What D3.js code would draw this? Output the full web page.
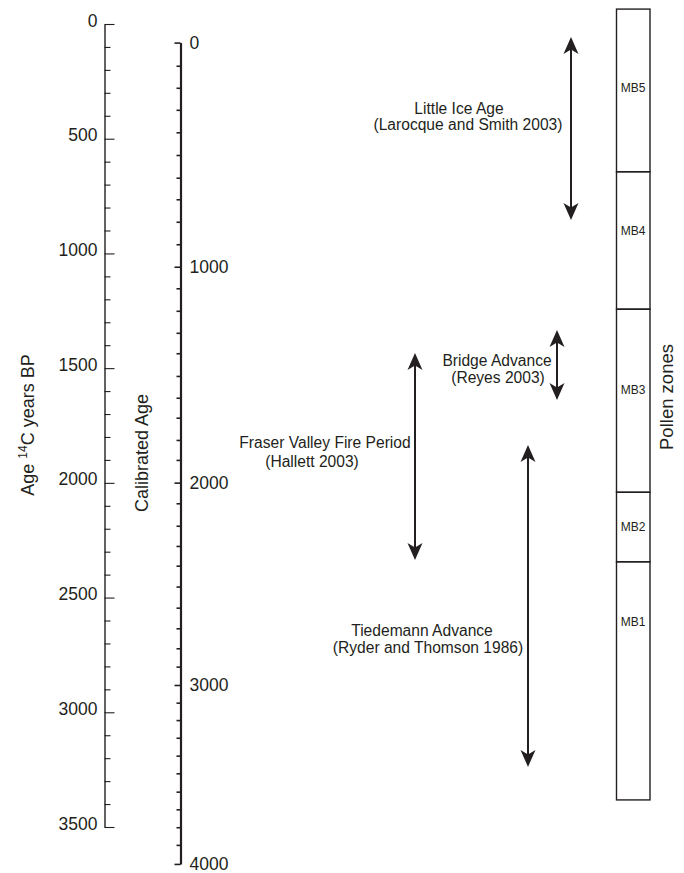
<!DOCTYPE html>
<html>
<head>
<meta charset="utf-8">
<script src="https://cdn.jsdelivr.net/npm/d3@7"></script>
<style>
  body { margin: 0; background: #fff; }
  text { font-family: "Liberation Sans", Arial, sans-serif; fill: #231f20; }
</style>
</head>
<body>
<div id="chart"></div>
<script>
// radiocarbon axis (14C years BP)
const c14Major = [0, 500, 1000, 1500, 2000, 2500, 3000, 3500];
const c14Minor = d3.range(0, 3501, 100);

// calibrated ages and the 14C age each one lines up with
const calAge = [0, 100, 200, 300, 400, 500, 600, 700, 800, 900,
  1000, 1100, 1200, 1300, 1400, 1500, 1600, 1700, 1800, 1900,
  2000, 2100, 2200, 2300, 2400, 2500, 2600, 2700, 2800, 2900,
  3000, 3100, 3200, 3300, 3400, 3500, 3600, 3700, 3800, 3900, 4000];
const calAs14C = [81, 182, 278, 374, 472, 571, 670, 764, 862, 960,
  1058, 1152, 1250, 1346, 1435, 1534, 1629, 1716, 1813, 1900,
  1999, 2089, 2187, 2275, 2361, 2452, 2544, 2634, 2721, 2801,
  2881, 2958, 3034, 3111, 3189, 3266, 3346, 3423, 3501, 3578, 3661];
const calMajor = [0, 1000, 2000, 3000, 4000];

// pollen zones, in 14C years BP
const zoneNames = ["MB5", "MB4", "MB3", "MB2", "MB1"];
const zoneTop = [-65, 644, 1243, 2041, 2344];
const zoneBottom = [644, 1243, 2041, 2344, 3382];
const zoneLabelAt = [279, 902, 1595, 2192, 2606];

// events, in 14C years BP
const eventNames = ["Little Ice Age", "Bridge Advance", "Fraser Valley Fire Period", "Tiedemann Advance"];
const eventRefs = ["(Larocque and Smith 2003)", "(Reyes 2003)", "(Hallett 2003)", "(Ryder and Thomson 1986)"];
const eventStart = [57, 1334, 1434, 1835];
const eventEnd = [854, 1639, 2336, 3238];
const eventLabelAt = [392, 1491, 1848, 2667];

// layout only
const eventX = [571, 557, 415, 528];
const nameX = [459, 497, 325, 422];
const refX = [468, 498, 312, 428];
const lineGap = [16, 17, 19, 17];

const width = 684, height = 873;
const ink = "#231f20";

const svg = d3.select("#chart").append("svg")
  .attr("width", width)
  .attr("height", height);

const y = d3.scaleLinear().domain([0, 3500]).range([24, 827]);
const yCal = d3.scaleLinear().domain(calAge).range(calAs14C.map(y));

// 14C axis: ticks to the right, labels to the left
const axis14 = svg.append("g").attr("transform", "translate(104.5,0)");
axis14.append("g")
  .call(d3.axisLeft(y).tickValues(c14Minor.filter(d => d % 500)).tickSizeInner(-6).tickSizeOuter(0).tickFormat(""))
  .call(g => g.select(".domain").remove());
axis14.append("g")
  .call(d3.axisLeft(y).tickValues(c14Major).tickSizeInner(-10).tickSizeOuter(0).tickPadding(7).tickFormat(d3.format("d")))
  .call(g => g.attr("font-size", null).attr("font-family", null))
  .call(g => g.selectAll("text").attr("dy", "0.12em").style("font-size", "17.5px"));
axis14.selectAll("line").attr("stroke", ink).attr("stroke-width", 1.1);
axis14.selectAll(".domain").attr("stroke", ink).attr("stroke-width", 1.4);

// calibrated axis: ticks to the left, labels to the right
const axisCal = svg.append("g").attr("transform", "translate(180.5,0)");
axisCal.append("g")
  .call(d3.axisRight(yCal).tickValues(calAge.filter(d => d % 1000)).tickSizeInner(-4).tickSizeOuter(0).tickFormat(""))
  .call(g => g.select(".domain").remove());
axisCal.append("g")
  .call(d3.axisRight(yCal).tickValues(calMajor).tickSizeInner(-6).tickSizeOuter(0).tickPadding(9).tickFormat(d3.format("d")))
  .call(g => g.attr("font-size", null).attr("font-family", null))
  .call(g => g.selectAll("text").style("font-size", "17.5px"));
axisCal.selectAll("line").attr("stroke", ink).attr("stroke-width", 1.6);
axisCal.selectAll(".domain").attr("stroke", ink).attr("stroke-width", 2.2);

// axis titles
const t14 = svg.append("text")
  .attr("transform", "translate(34,425) rotate(-90)")
  .attr("text-anchor", "middle")
  .style("font-size", "18px");
t14.append("tspan").text("Age ");
t14.append("tspan").text("14").attr("baseline-shift", "super").style("font-size", "12px");
t14.append("tspan").text("C years BP");

svg.append("text")
  .attr("transform", "translate(148,453) rotate(-90)")
  .attr("text-anchor", "middle")
  .style("font-size", "18px")
  .text("Calibrated Age");

svg.append("text")
  .attr("transform", "translate(673,397) rotate(-90)")
  .attr("text-anchor", "middle")
  .style("font-size", "18.5px")
  .text("Pollen zones");

// pollen zones column
const zones = svg.append("g");
zones.selectAll("rect")
  .data(zoneNames)
  .join("rect")
  .attr("x", 616.5)
  .attr("width", 33.5)
  .attr("y", (d, i) => y(zoneTop[i]))
  .attr("height", (d, i) => y(zoneBottom[i]) - y(zoneTop[i]))
  .attr("fill", "none")
  .attr("stroke", ink)
  .attr("stroke-width", 1.4);
zones.selectAll("text")
  .data(zoneNames)
  .join("text")
  .attr("x", 633)
  .attr("y", (d, i) => y(zoneLabelAt[i]))
  .attr("dy", "0.35em")
  .attr("text-anchor", "middle")
  .style("font-size", "12px")
  .text(d => d);

// event arrows
const head = "M0,0L7.5,17L0,12.5L-7.5,17Z";
const events = svg.append("g");
eventNames.forEach((name, i) => {
  const x = eventX[i];
  const y0 = y(eventStart[i]), y1 = y(eventEnd[i]);
  events.append("line")
    .attr("x1", x).attr("x2", x)
    .attr("y1", y0 + 10).attr("y2", y1 - 10)
    .attr("stroke", ink)
    .attr("stroke-width", 2);
  events.append("path")
    .attr("d", head)
    .attr("transform", `translate(${x},${y0})`)
    .attr("fill", ink);
  events.append("path")
    .attr("d", head)
    .attr("transform", `translate(${x},${y1}) rotate(180)`)
    .attr("fill", ink);

  const ly = y(eventLabelAt[i]);
  events.append("text")
    .attr("x", nameX[i]).attr("y", ly)
    .attr("text-anchor", "middle")
    .style("font-size", "15.6px")
    .text(name);
  events.append("text")
    .attr("x", refX[i]).attr("y", ly + lineGap[i])
    .attr("text-anchor", "middle")
    .style("font-size", "15.6px")
    .text(eventRefs[i]);
});
</script>
</body>
</html>
